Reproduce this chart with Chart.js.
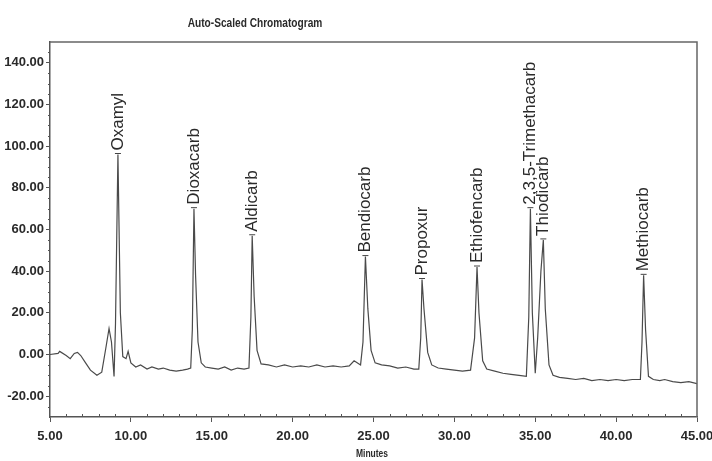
<!DOCTYPE html>
<html>
<head>
<meta charset="utf-8">
<script src="https://cdn.jsdelivr.net/npm/chart.js@4/dist/chart.umd.min.js"></script>
<style>
  html, body { margin: 0; padding: 0; background: #fff; }
  #wrap { width: 712px; height: 461px; }
</style>
</head>
<body>
<div id="wrap"><canvas id="chromCanvas"></canvas></div>
<script>
// retention time (min) and detector response
const times = [5.0, 5.5, 5.6, 6.0, 6.25, 6.5, 6.7, 6.9, 7.2, 7.5, 7.9, 8.2, 8.45, 8.65, 8.8, 8.96, 9.05, 9.2, 9.35, 9.5, 9.7, 9.83, 10.0, 10.3, 10.6, 11.0, 11.3, 11.7, 12.0, 12.4, 12.8, 13.2, 13.5, 13.7, 13.8, 13.9, 14.0, 14.15, 14.35, 14.6, 15.0, 15.4, 15.8, 16.2, 16.6, 17.0, 17.3, 17.42, 17.5, 17.62, 17.8, 18.05, 18.5, 19.0, 19.5, 20.0, 20.5, 21.0, 21.5, 22.0, 22.5, 23.0, 23.5, 23.8, 24.2, 24.35, 24.5, 24.65, 24.85, 25.1, 25.5, 26.0, 26.5, 27.0, 27.5, 27.8, 27.92, 28.0, 28.12, 28.35, 28.6, 29.0, 29.5, 30.0, 30.5, 31.0, 31.25, 31.4, 31.52, 31.75, 32.0, 32.5, 33.0, 33.5, 34.0, 34.45, 34.6, 34.7, 34.82, 35.0, 35.15, 35.35, 35.5, 35.62, 35.85, 36.1, 36.5, 37.0, 37.5, 38.0, 38.5, 39.0, 39.5, 40.0, 40.5, 41.0, 41.5, 41.6, 41.7, 41.82, 42.0, 42.3, 42.7, 43.0, 43.5, 44.0, 44.5, 45.0];
const signal = [0.0, 0.5, 1.5, -0.5, -2.0, 0.5, 1.0, -0.5, -4.0, -7.5, -10.0, -8.5, 3.0, 12.5, 6.0, -10.5, 15.0, 96.0, 20.0, -1.0, -2.0, 1.5, -4.0, -6.0, -5.0, -7.0, -6.0, -7.0, -6.5, -7.5, -8.0, -7.5, -7.0, -6.5, 12.0, 70.0, 38.0, 6.0, -4.0, -6.0, -6.5, -7.0, -6.0, -7.5, -6.5, -7.0, -6.5, 18.0, 57.0, 28.0, 2.0, -4.5, -5.0, -6.0, -5.0, -6.0, -5.5, -6.0, -5.0, -6.0, -5.5, -6.0, -5.5, -3.0, -5.0, 6.0, 47.0, 22.0, 2.0, -4.0, -5.0, -5.5, -6.5, -6.0, -7.0, -7.0, 8.0, 36.0, 22.0, 1.0, -5.0, -6.5, -7.0, -7.5, -8.0, -7.5, 8.0, 42.0, 20.0, -3.0, -7.0, -8.0, -9.0, -9.5, -10.0, -10.5, 18.0, 70.0, 20.0, -9.0, 8.0, 40.0, 55.0, 22.0, -5.0, -10.0, -11.0, -11.5, -12.0, -11.5, -12.5, -12.0, -12.5, -12.0, -12.5, -12.0, -12.0, 6.0, 38.0, 12.0, -10.5, -12.0, -12.5, -12.0, -13.0, -13.5, -13.0, -14.0];

const peakNames = ['Oxamyl', 'Dioxacarb', 'Aldicarb', 'Bendiocarb', 'Propoxur', 'Ethiofencarb', '2,3,5-Trimethacarb', 'Thiodicarb', 'Methiocarb'];
const peakTimes = [9.2, 13.9, 17.5, 24.5, 28.0, 31.4, 34.7, 35.5, 41.7];
const peakHeights = [96, 70, 57, 47, 36, 42, 70, 55, 38];

const yTicks = [-20, 0, 20, 40, 60, 80, 100, 120, 140];
const xTicks = [5, 10, 15, 20, 25, 30, 35, 40, 45];

const textColor = '#2a2a2a';
const labelFont = '"Liberation Sans", Arial, sans-serif';

// draws squeezed text, the scan uses a condensed face
function narrowText(ctx, text, x, y, squeeze) {
    ctx.save();
    ctx.translate(x, y);
    ctx.scale(squeeze, 1);
    ctx.fillText(text, 0, 0);
    ctx.restore();
}

const decorations = {
    id: 'decorations',
    afterDraw(chart) {
        const { ctx, chartArea: a, scales: { x, y } } = chart;
        ctx.save();
        // frame: top and right edges
        ctx.strokeStyle = '#666';
        ctx.lineWidth = 1.5;
        ctx.beginPath();
        ctx.moveTo(a.left, a.top);
        ctx.lineTo(a.right, a.top);
        ctx.lineTo(a.right, a.bottom);
        ctx.stroke();

        // minor ticks
        ctx.strokeStyle = '#555';
        ctx.lineWidth = 1;
        ctx.beginPath();
        for (let t = 6; t < 45; t++) {
            if (t % 5 === 0) continue;
            const px = Math.round(x.getPixelForValue(t)) + 0.5;
            ctx.moveTo(px, a.bottom);
            ctx.lineTo(px, a.bottom - 3);
        }
        for (let v = -25; v <= 145; v += 5) {
            if (v % 20 === 0) continue;
            const py = Math.round(y.getPixelForValue(v)) + 0.5;
            ctx.moveTo(a.left, py);
            ctx.lineTo(a.left - 2, py);
        }
        ctx.stroke();

        // title and axis name
        ctx.fillStyle = textColor;
        ctx.textAlign = 'center';
        ctx.textBaseline = 'middle';
        ctx.font = 'bold 13px ' + labelFont;
        narrowText(ctx, 'Auto-Scaled Chromatogram', 255, 23, 0.78);
        ctx.font = 'bold 10px ' + labelFont;
        narrowText(ctx, 'Minutes', 372, 454, 0.85);

        // peak labels
        ctx.font = '17px ' + labelFont;
        ctx.strokeStyle = '#444';
        peakNames.forEach((name, i) => {
            const px = x.getPixelForValue(peakTimes[i]);
            const py = y.getPixelForValue(peakHeights[i]);
            ctx.beginPath();
            ctx.moveTo(px - 3, py - 1);
            ctx.lineTo(px + 3, py - 1);
            ctx.stroke();
            ctx.save();
            ctx.translate(px, py - 4);
            ctx.rotate(-Math.PI / 2);
            ctx.textAlign = 'left';
            ctx.textBaseline = 'middle';
            ctx.fillText(name, 0, 0);
            ctx.restore();
        });
        ctx.restore();
    }
};

const ctx = document.getElementById('chromCanvas').getContext('2d');

const chromChart = new Chart(ctx, {
    type: 'line',
    data: {
        datasets: [{
            label: 'Signal',
            data: times.map((t, i) => ({ x: t, y: signal[i] })),
            borderColor: '#4a4a4a',
            borderWidth: 1.2,
            pointRadius: 0,
            tension: 0,
            fill: false
        }]
    },
    options: {
        responsive: true,
        maintainAspectRatio: false,
        animation: false,
        layout: { padding: { left: 0, right: 0, top: 42, bottom: 0 } },
        plugins: {
            legend: { display: false },
            title: { display: false },
            tooltip: { enabled: false }
        },
        scales: {
            x: {
                type: 'linear',
                min: 5,
                max: 45,
                afterFit: function (s) {
                    s.height = 44;
                    s.paddingLeft = 0;
                    s.paddingRight = 15;
                },
                afterBuildTicks: function (s) { s.ticks = xTicks.map(v => ({ value: v })); },
                grid: { drawOnChartArea: false, tickLength: 5, color: '#555' },
                border: { color: '#555', width: 1.5 },
                ticks: {
                    padding: 7,
                    color: textColor,
                    maxRotation: 0,
                    font: { family: labelFont, size: 13, weight: 'bold' },
                    callback: function (value) {
                        return value.toFixed(2);
                    }
                }
            },
            y: {
                min: -30,
                max: 150,
                afterFit: function (s) { s.width = 50; },
                afterBuildTicks: function (s) { s.ticks = yTicks.map(v => ({ value: v })); },
                grid: { drawOnChartArea: false, tickLength: 4, color: '#555' },
                border: { color: '#555', width: 1.5 },
                ticks: {
                    padding: 2,
                    color: textColor,
                    font: { family: labelFont, size: 13, weight: 'bold' },
                    callback: function (value) {
                        return value.toFixed(2);
                    }
                }
            }
        }
    },
    plugins: [decorations]
});
</script>
</body>
</html>
